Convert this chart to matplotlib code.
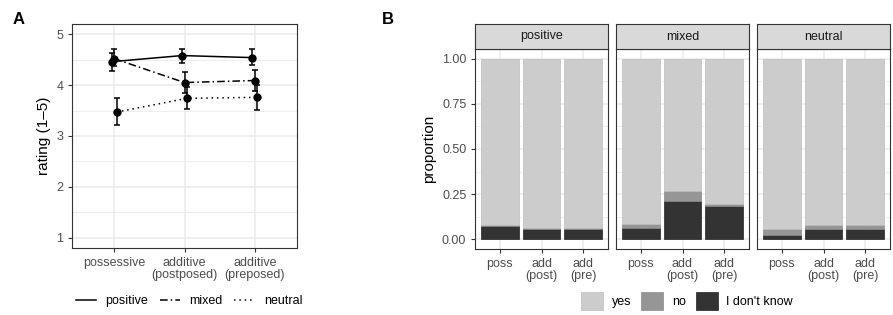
import matplotlib
matplotlib.use("Agg")
import matplotlib.pyplot as plt
from matplotlib.lines import Line2D
from matplotlib.patches import Patch
import numpy as np

plt.rcParams['font.family'] = ['Liberation Sans', 'DejaVu Sans']

# panel A: mean ratings with error bars
conditions = ["possessive", "additive\n(postposed)", "additive\n(preposed)"]
series = ["positive", "mixed", "neutral"]
rating = {
    "positive": [4.46, 4.58, 4.54],
    "mixed":    [4.52, 4.05, 4.09],
    "neutral":  [3.47, 3.74, 3.76],
}
rating_lo = {
    "positive": [4.28, 4.44, 4.39],
    "mixed":    [4.37, 3.85, 3.88],
    "neutral":  [3.21, 3.53, 3.51],
}
rating_hi = {
    "positive": [4.63, 4.71, 4.71],
    "mixed":    [4.70, 4.26, 4.29],
    "neutral":  [3.74, 3.97, 4.00],
}

# panel B: stacked proportions per facet
facets = ["positive", "mixed", "neutral"]
short_labels = ["poss", "add\n(post)", "add\n(pre)"]
answers = ["yes", "no", "I don't know"]
p_idk = {
    "positive": [0.073, 0.055, 0.055],
    "mixed":    [0.062, 0.212, 0.184],
    "neutral":  [0.024, 0.055, 0.055],
}
p_no = {
    "positive": [0.007, 0.004, 0.007],
    "mixed":    [0.019, 0.055, 0.008],
    "neutral":  [0.030, 0.025, 0.025],
}

W, H = 893, 315
fig = plt.figure(figsize=(W / 100, H / 100), dpi=100)

def box(x0, y0, x1, y1):
    # pixel box (top-left origin) -> figure fraction
    return [x0 / W, 1 - y1 / H, (x1 - x0) / W, (y1 - y0) / H]

border = '#333333'
gridc = '#EBEBEB'
tickc = '#4D4D4D'

def style(ax):
    for s in ax.spines.values():
        s.set_color(border)
        s.set_linewidth(0.8)
    ax.tick_params(colors=border, labelcolor=tickc, labelsize=9, length=2.75, width=0.8)
    ax.set_axisbelow(True)

# ---- panel A ----
axA = fig.add_axes(box(72, 24, 297, 248))
style(axA)
x = np.arange(1, 4)
styles = {"positive": '-', "mixed": (0, (5, 2, 1, 2)), "neutral": (0, (1, 2.5))}
dodge = {"positive": -0.035, "mixed": 0.0, "neutral": 0.035}
for s in series:
    xs = x + dodge[s]
    y = np.array(rating[s])
    err = [y - np.array(rating_lo[s]), np.array(rating_hi[s]) - y]
    axA.plot(xs, y, color='black', lw=1.1, linestyle=styles[s])
    axA.errorbar(xs, y, yerr=err, fmt='o', color='black', ms=5, capsize=2.5, elinewidth=1.1, capthick=1.1)
axA.set_xlim(0.4, 3.6)
axA.set_ylim(0.8, 5.2)
axA.set_xticks(x)
axA.set_xticklabels(conditions, linespacing=1.0)
axA.set_yticks([1, 2, 3, 4, 5])
axA.set_yticks([1.5, 2.5, 3.5, 4.5], minor=True)
axA.tick_params(which='minor', length=0)
axA.grid(True, which='major', color=gridc, lw=1.1)
axA.grid(True, which='minor', color=gridc, lw=0.6)
axA.set_ylabel("rating (1–5)", fontsize=11)
fig.text(13 / W, 1 - 20 / H, "A", fontsize=12, fontweight='bold', va='center')

handles = [Line2D([], [], color='black', lw=1.1, linestyle=styles[s]) for s in series]
fig.legend(handles, series, loc='center', bbox_to_anchor=(189 / W, 1 - 301 / H), ncol=3,
           frameon=False, fontsize=9, handlelength=1.6, handletextpad=0.8, columnspacing=0.9)

# ---- panel B ----
fills = {"yes": '#CCCCCC', "no": '#969696', "I don't know": '#333333'}
edges = {"yes": '#BDBDBD', "no": '#8A8A8A', "I don't know": '#222222'}
lefts = [475, 616, 757]
for i, f in enumerate(facets):
    ax = fig.add_axes(box(lefts[i], 49, lefts[i] + 133, 249))
    style(ax)
    idk = np.array(p_idk[f])
    no = np.array(p_no[f])
    yes = 1 - idk - no
    ax.bar(x, idk, width=0.9, color=fills["I don't know"], edgecolor=edges["I don't know"], lw=0.5)
    ax.bar(x, no, bottom=idk, width=0.9, color=fills["no"], edgecolor=edges["no"], lw=0.5)
    ax.bar(x, yes, bottom=idk + no, width=0.9, color=fills["yes"], edgecolor=edges["yes"], lw=0.5)
    ax.set_xlim(0.4, 3.6)
    ax.set_ylim(-0.055, 1.055)
    ax.set_xticks(x)
    ax.set_xticklabels(short_labels, linespacing=1.0)
    ax.set_yticks([0, 0.25, 0.5, 0.75, 1.0])
    ax.set_yticks([0.125, 0.375, 0.625, 0.875], minor=True)
    ax.tick_params(which='minor', length=0)
    ax.grid(True, which='major', color=gridc, lw=1.1)
    ax.grid(True, which='minor', color=gridc, lw=0.6)
    if i == 0:
        ax.set_yticklabels(["0.00", "0.25", "0.50", "0.75", "1.00"])
        ax.set_ylabel("proportion", fontsize=11)
    else:
        ax.tick_params(axis='y', left=False, labelleft=False)
    # facet strip
    st = fig.add_axes(box(lefts[i], 24, lefts[i] + 133, 49))
    st.set_facecolor('#D9D9D9')
    st.set_xticks([])
    st.set_yticks([])
    for s in st.spines.values():
        s.set_color(border)
        s.set_linewidth(0.8)
    st.text(0.5, 0.5, f, ha='center', va='center', fontsize=9, color='#1A1A1A', transform=st.transAxes)

fig.text(382 / W, 1 - 20 / H, "B", fontsize=12, fontweight='bold', va='center')

phandles = [Patch(facecolor=fills[a], edgecolor=edges[a], lw=0.5) for a in answers]
fig.legend(phandles, answers, loc='center', bbox_to_anchor=(687 / W, 1 - 301 / H), ncol=3,
           frameon=False, fontsize=9, handlelength=1.75, handleheight=1.75,
           handletextpad=0.7, columnspacing=0.8)

fig.savefig("out.png", dpi=100)
